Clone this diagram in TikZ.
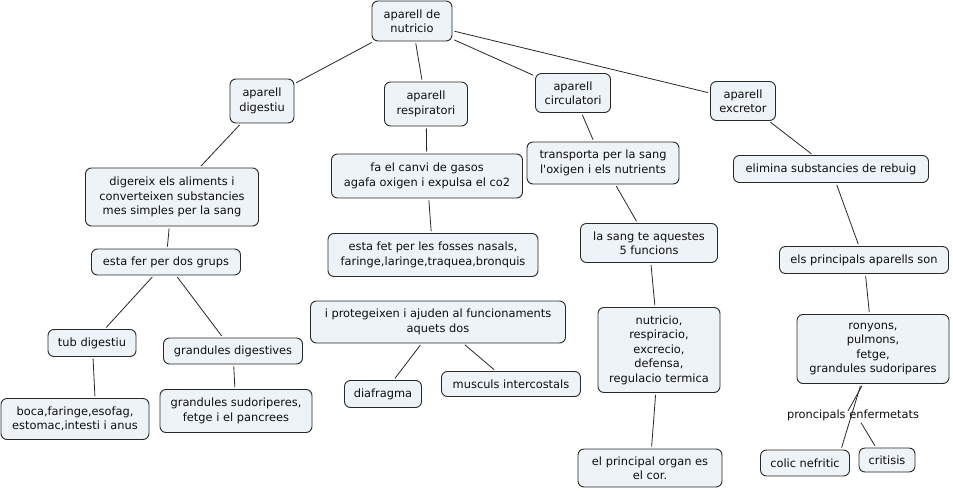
\documentclass[tikz,border=0pt]{standalone}
\usepackage{fontspec}
\setmainfont{DejaVu Sans}
\usetikzlibrary{calc}
\definecolor{boxfill}{RGB}{237,243,246}
\definecolor{boxline}{RGB}{40,40,40}
\definecolor{txt}{RGB}{15,15,15}
\begin{document}
\begin{tikzpicture}[x=1pt,y=-1pt,
  box/.style={draw=boxline, line width=0.9pt, rounded corners=6pt, fill=boxfill,
    align=center, inner sep=1pt, text=txt, font=\fontsize{11.4}{14.5}\selectfont},
  lbl/.style={inner sep=0pt, text=txt, font=\fontsize{11.4}{14.5}\selectfont},
  conn/.style={draw=boxline, line width=0.8pt, shorten <=2pt, shorten >=2pt}]
\useasboundingbox (0,0) rectangle (953,490);
\fill[white] (0,0) rectangle (953,490);

\node[box, minimum width=80pt, minimum height=40pt] (nut) at (412,21) {aparell de\\nutricio};
\node[box, minimum width=64pt, minimum height=44pt] (dig) at (262,101) {aparell\\digestiu};
\node[box, minimum width=83pt, minimum height=44pt] (resp) at (426,104) {aparell\\respiratori};
\node[box, minimum width=75pt, minimum height=39pt] (circ) at (573,93) {aparell\\circulatori};
\node[box, minimum width=65pt, minimum height=39pt] (exc) at (743,101) {aparell\\excretor};

\node[box, minimum width=173pt, minimum height=58pt] (dige) at (172,197) {digereix els aliments i\\converteixen substancies\\mes simples per la sang};
\node[box, minimum width=191pt, minimum height=44pt] (fa) at (427,176) {fa el canvi de gasos\\agafa oxigen i expulsa el co2};
\node[box, minimum width=152pt, minimum height=42pt] (trans) at (603,163) {transporta per la sang\\l\textquotesingle oxigen i els nutrients};
\node[box, minimum width=195pt, minimum height=27pt] (elim) at (831,169) {elimina substancies de rebuig};

\node[box, minimum width=210pt, minimum height=43pt] (fet) at (433,255) {esta fet per les fosses nasals,\\faringe,laringe,traquea,bronquis};
\node[box, minimum width=137pt, minimum height=39pt] (sang) at (649,243) {la sang te aquestes\\5 funcions};
\node[box, minimum width=169pt, minimum height=27pt] (princ) at (864,260) {els principals aparells son};
\node[box, minimum width=149pt, minimum height=26pt] (grups) at (166,262) {esta fer per dos grups};

\node[box, minimum width=255pt, minimum height=42pt] (prot) at (438,322) {i protegeixen i ajuden al funcionaments\\aquets dos};
\node[box, minimum width=122pt, minimum height=85pt] (funcs) at (659,350) {nutricio,\\respiracio,\\excrecio,\\defensa,\\regulacio termica};
\node[box, minimum width=152pt, minimum height=69pt] (rony) at (873,349) {ronyons,\\pulmons,\\fetge,\\grandules sudoripares};

\node[box, minimum width=88pt, minimum height=27pt] (tub) at (92,343) {tub digestiu};
\node[box, minimum width=139pt, minimum height=26pt] (gdig) at (233,351) {grandules digestives};
\node[box, minimum width=77pt, minimum height=27pt] (diaf) at (383,394) {diafragma};
\node[box, minimum width=139pt, minimum height=25pt] (musc) at (511,384) {musculs intercostals};

\node[box, minimum width=148pt, minimum height=41pt] (boca) at (75,419) {boca,faringe,esofag,\\estomac,intesti i anus};
\node[box, minimum width=152pt, minimum height=43pt] (gsud) at (236,411) {grandules sudoriperes,\\fetge i el pancrees};
\node[box, minimum width=144pt, minimum height=38pt] (cor) at (650,468) {el principal organ es\\el cor.};
\node[box, minimum width=89pt, minimum height=26pt] (colic) at (805,463) {colic nefritic};
\node[box, minimum width=56pt, minimum height=24pt] (crit) at (887,460) {critisis};

\node[lbl] (lab) at (853,415) {proncipals enfermetats};
\coordinate (labtop) at (848,411);

\draw[conn] (nut) -- (dig);
\draw[conn] (nut) -- (resp);
\draw[conn] (nut) -- (circ);
\draw[conn] (nut) -- (exc);
\draw[conn] (dig) -- (dige);
\draw[conn] (dige) -- (grups);
\draw[conn] (grups) -- (tub);
\draw[conn] (grups) -- (gdig);
\draw[conn] ([xshift=1pt]tub.south) -- ([xshift=20pt]boca.north);
\draw[conn] (gdig) -- (gsud);
\draw[conn] (resp) -- (fa);
\draw[conn] (fa) -- (fet);
\draw[conn] (prot) -- (diaf);
\draw[conn] (prot) -- (musc);
\draw[conn] (circ) -- (trans);
\draw[conn] (trans) -- (sang);
\draw[conn] (sang) -- (funcs);
\draw[conn] (funcs) -- (cor);
\draw[conn] (exc) -- (elim);
\draw[conn] (elim) -- (princ);
\draw[conn] (princ) -- (rony);
\draw[conn] ([xshift=-12pt]rony.south) -- ([xshift=36pt]colic.north);
\draw[conn, shorten >=0pt] ([xshift=-10pt]rony.south) -- (labtop);
\draw[conn] ([xshift=7pt,yshift=-6pt]lab.center) -- ([xshift=-11pt]crit.north);
\end{tikzpicture}
\end{document}
